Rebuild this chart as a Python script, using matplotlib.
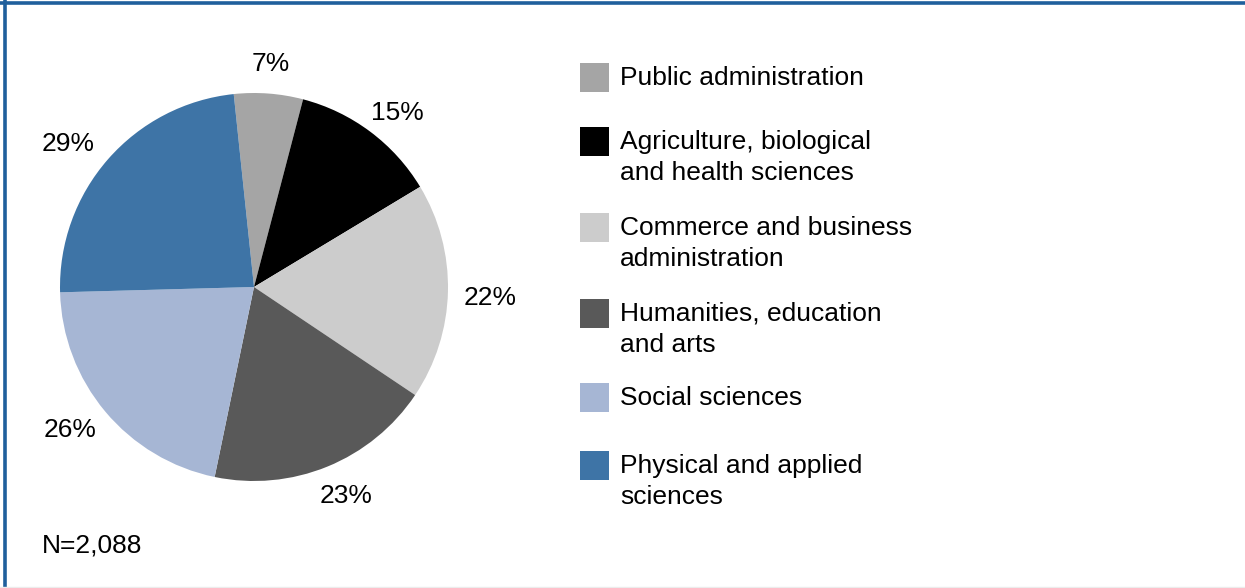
import matplotlib.pyplot as plt
from matplotlib.patches import Rectangle
import numpy as np

plt.rcParams['font.family'] = ['Liberation Sans', 'DejaVu Sans']

# share of respondents by field (multiple responses, so they add past 100)
fields = ['Public administration',
          'Agriculture, biological\nand health sciences',
          'Commerce and business\nadministration',
          'Humanities, education\nand arts',
          'Social sciences',
          'Physical and applied\nsciences']
shares = [7, 15, 22, 23, 26, 29]
colours = ['#a5a5a5', '#000000', '#cccccc', '#595959', '#a6b6d4', '#3e74a6']
n_note = 'N=2,088'

# label placement: distance out (radii) and clockwise nudge (deg) from wedge middle
label_r = [1.165, 1.17, 1.217, 1.165, 1.195, 1.215]
label_turn = [0.0, 2.3, 0.8, -1.7, 2.4, -3.3]

W, H = 1245, 588
FS = 19
fig = plt.figure(figsize=(W / 100, H / 100), dpi=100)

# pie axes, placed in pixels
cx, cy, R = 254, 287, 194
ax = fig.add_axes([(cx - R) / W, (H - cy - R) / H, 2 * R / W, 2 * R / H])
wedges, _ = ax.pie(shares, colors=colours, startangle=96, counterclock=False,
                   wedgeprops=dict(linewidth=0))
ax.set_xlim(-1, 1)
ax.set_ylim(-1, 1)
ax.set_aspect('equal')

# percentage labels just outside each wedge
for w, v, r, t in zip(wedges, shares, label_r, label_turn):
    mid = np.deg2rad((w.theta1 + w.theta2) / 2 - t)
    ax.text(r * np.cos(mid), r * np.sin(mid) - 0.01, f'{v}%',
            ha='center', va='center', fontsize=FS, clip_on=False)

# legend drawn by hand: square + label, first line level with square
sq_tops = [63, 127, 213, 299, 383, 451]
sq = 29
for top, lab, c in zip(sq_tops, fields, colours):
    fig.patches.append(Rectangle((580 / W, (H - top - sq) / H), sq / W, sq / H,
                                 transform=fig.transFigure, facecolor=c,
                                 edgecolor='none'))
    fig.text(620 / W, (H - top - 3) / H, lab, ha='left', va='top',
             fontsize=FS, linespacing=1.36)

fig.text(42 / W, (H - 545) / H, n_note, ha='left', va='center', fontsize=FS)

# frame: blue rule along top and left, faint grey at the bottom
fig.add_artist(plt.Line2D([0, 1], [1 - 2.5 / H, 1 - 2.5 / H], color='#1f5f9c',
                          linewidth=2.6, transform=fig.transFigure))
fig.add_artist(plt.Line2D([5.5 / W, 5.5 / W], [0, 1], color='#1f5f9c',
                          linewidth=2.6, transform=fig.transFigure))
fig.add_artist(plt.Line2D([0, 1], [0.8 / H, 0.8 / H], color='#ececec',
                          linewidth=1.0, transform=fig.transFigure))

fig.savefig('out.png', dpi=100)
